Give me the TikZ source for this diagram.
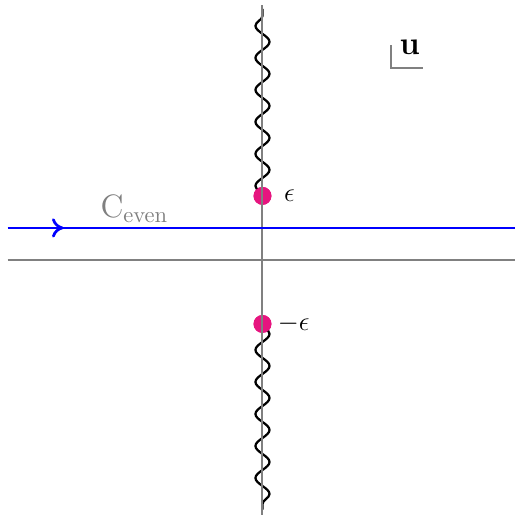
\documentclass[tikz,border=0pt]{standalone}
\usetikzlibrary{arrows.meta, positioning, decorations.pathmorphing, decorations.markings}
\definecolor{cpole}{HTML}{E6157F}
\definecolor{caxis}{HTML}{808080}
\tikzset{
  every picture/.style={line width=0.9pt},
  axis/.style={draw=caxis},
  contour/.style={draw=blue, postaction={decorate},
    decoration={markings, mark=at position 0.11 with {\arrow{To[length=1.8mm,width=3mm,line width=1.2pt]}}}},
  cut/.style={draw=black, line width=1pt, decorate, decoration={snake, amplitude=1.1mm, segment length=5mm}},
  pole/.style={circle, fill=cpole, inner sep=0pt, minimum size=2.8mm},
  lbl/.style={font=\large},
}

\begin{document}
\begin{tikzpicture}
  \useasboundingbox (-4.1,-4.0) rectangle (3.95,4.06);
  % branch points and the frame
  \node[pole] (pplus) at (0,1) {};
  \node[pole] (pminus) at (0,-1) {};
  \coordinate (ctop) at (0,3.92);
  \coordinate (cbot) at (0,-3.9);
  \coordinate (xl) at (-3.98,0);
  \coordinate (xr) at (3.95,0);
  \coordinate (yt) at (0,3.98);
  \coordinate (yb) at (0,-3.98);
  \coordinate (cl) at (-3.98,0.5);
  \coordinate (cr) at (3.95,0.5);
  % branch cuts
  \draw[cut] (pplus.center) -- (ctop);
  \draw[cut] (pminus.center) -- (cbot);
  \node[pole] at (pplus) {};
  \node[pole] at (pminus) {};
  % axes
  \draw[axis] (xl) -- (xr);
  \draw[axis] (yb) -- (yt);
  % contour
  \draw[contour] (cl) -- (cr);
  \node[font=\Large, text=caxis] (ceven) at (-2,0.8) {$\mathrm{C}_{\mathrm{even}}$};
  \node[lbl, right=0.5mm of pplus] (eps) {$\epsilon$};
  \node[lbl, right=-0.5mm of pminus] (meps) {$-\epsilon$};
  % variable
  \draw[axis] (2.01,3.35) |- (2.51,3.0);
  \node[font=\Large] (u) at (2.3,3.32) {$\mathbf{u}$};
\end{tikzpicture}
\end{document}
